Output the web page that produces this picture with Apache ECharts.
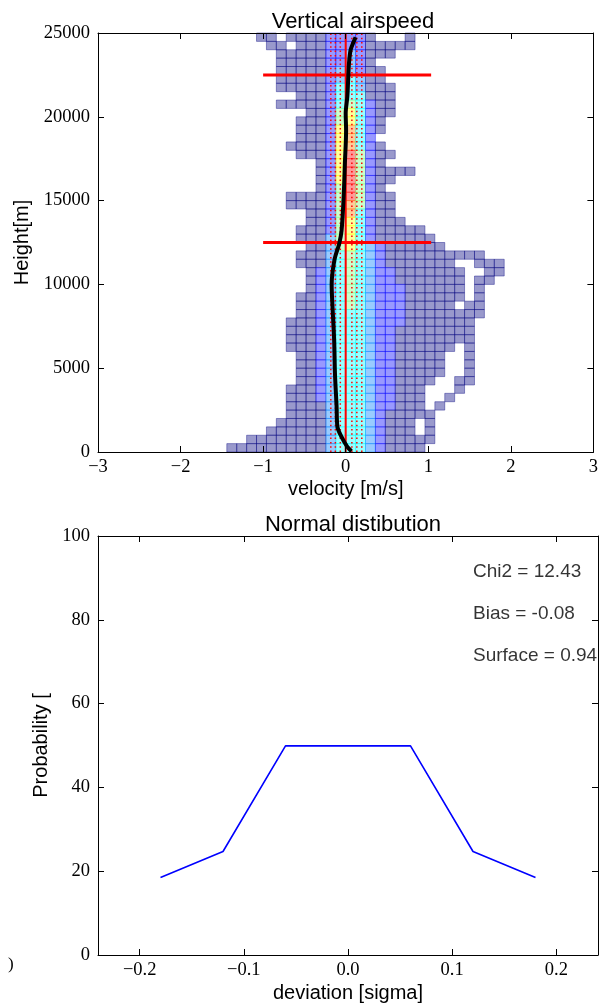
<!DOCTYPE html>
<html><head><meta charset="utf-8">
<script src="https://cdn.jsdelivr.net/npm/echarts@6/dist/echarts.min.js"></script>
<style>html,body{margin:0;padding:0;background:#fff}#chart{width:601px;height:1004px}</style>
</head><body><div id="chart"></div>
<script>
// ---------- data: vertical airspeed histogram ----------
const velocityEdges = [-3.00,-2.88,-2.76,-2.64,-2.52,-2.40,-2.28,-2.16,-2.04,-1.92,-1.80,-1.68,-1.56,-1.44,-1.32,-1.20,-1.08,-0.96,-0.84,-0.72,-0.60,-0.48,-0.36,-0.24,-0.12,0.00,0.12,0.24,0.36,0.48,0.60,0.72,0.84,0.96,1.08,1.20,1.32,1.44,1.56,1.68,1.80,1.92,2.04,2.16,2.28,2.40,2.52,2.64,2.76,2.88,3.00];
const heightEdges = [0,500,1000,1500,2000,2500,3000,3500,4000,4500,5000,5500,6000,6500,7000,7500,8000,8500,9000,9500,10000,10500,11000,11500,12000,12500,13000,13500,14000,14500,15000,15500,16000,16500,17000,17500,18000,18500,19000,19500,20000,20500,21000,21500,22000,22500,23000,23500,24000,24500,25000];
// count level per cell, top row (24500-25000 m) first, one char per velocity bin; '.' = empty
const histRows = [
".......... ......11.1 11122221.. .1........ ..........",
".......... .......11. 1112222111 11........ ..........",
".......... ........11 1112232111 .......... ..........",
".......... ........11 11122321.. .......... ..........",
".......... ........11 111233211. .......... ..........",
".......... ........11 111234311. .......... ..........",
".......... ........11 1112443111 .......... ..........",
".......... .......... 1112444111 .......... ..........",
".......... ........11 1112454211 .......... ..........",
".......... .......... .112564211 .......... ..........",
".......... .......... 111256421. .......... ..........",
".......... .......... 111267421. .......... ..........",
".......... .......... 11126742.. .......... ..........",
".......... .........1 111267421. .......... ..........",
".......... .......... 1112685211 .......... ..........",
".......... .......... ..1268521. .......... ..........",
".......... .......... ..12685211 11........ ..........",
".......... .......... ..12685211 .......... ..........",
".......... .......... ..1258521. .......... ..........",
".......... .........1 1112585211 .......... ..........",
".......... .........1 1112575211 .......... ..........",
".......... .......... .112574211 .......... ..........",
".......... .......... .112564211 1......... ..........",
".......... .......... 1112564211 111....... ..........",
".......... .......... 1113564211 1111...... ..........",
".......... .......... .113564321 11111..... ..........",
".......... .......... 1113454321 111111111. ..........",
".......... .......... 1113454321 111111..11 1.........",
".......... .......... .123454322 1111111..1 1.........",
".......... .......... .123454322 1111111.11 ..........",
".......... .......... .123454322 2111111.1. ..........",
".......... .......... 1123454322 2111111.1. ..........",
".......... .......... 1123454322 211111.11. ..........",
".......... .......... 1123444322 211111111. ..........",
".......... .........1 1123444322 21111111.. ..........",
".......... .........1 1123444322 11111111.. ..........",
".......... .........1 1123444322 11111111.. ..........",
".......... .........1 1123444322 111111.1.. ..........",
".......... .......... 1123444322 11111..1.. ..........",
".......... .......... 1123444322 11111..1.. ..........",
".......... .......... 1123444322 11111..1.. ..........",
".......... .......... 1123444322 1111..11.. ..........",
".......... .........1 1123444322 111...1... ..........",
".......... .........1 1123444322 111..1.... ..........",
".......... .........1 1113444322 111.1..... ..........",
".......... .........1 1113444321 1111...... ..........",
".......... ........11 1113444321 11.1...... ..........",
".......... .......111 1113444321 11.1...... ..........",
".......... .....11111 1113444321 1111...... ..........",
".......... ...1111111 1113444321 111....... .........."
];
// mean vertical airspeed profile
const meanVelocity = [0.07, 0.02, -0.05, -0.10, -0.11, -0.13, -0.14, -0.16, -0.17, -0.16, -0.13, -0.08, -0.05, -0.025, -0.01, 0.005, 0.0, 0.02, 0.03, 0.04, 0.06, 0.09, 0.12];
const meanHeight   = [50, 300, 900, 1500, 2700, 4700, 6700, 8700, 10000, 10700, 11600, 12400, 13200, 15200, 17200, 19200, 20200, 21200, 22200, 23200, 24000, 24400, 24750];
const layerHeights = [22500, 12500];
const layerSpan = [-1.0, 1.035];
const dottedVelocities = [-0.18, -0.125, -0.065, 0.075, 0.135, 0.195];
const velocityTicks = [-3, -2, -1, 0, 1, 2, 3];
const heightTicks = [0, 5000, 10000, 15000, 20000, 25000];

// ---------- data: normal distribution ----------
const deviation = [-0.18, -0.12, -0.06, 0.06, 0.12, 0.18];
const probability = [18.5, 24.7, 49.9, 49.9, 24.7, 18.5];
const statLabels = ['Chi2 = 12.43', 'Bias = -0.08', 'Surface = 0.94'];
const statX = [0.12, 0.12, 0.12];
const statY = [90, 80, 70];

// ---------- build ----------
const cells = [];
histRows.forEach((rowStr, t) => {
  const row = rowStr.replace(/ /g, '');
  const r = heightEdges.length - 2 - t;
  for (let k = 0; k < row.length; k++) {
    const c = row[k];
    if (c === '.') continue;
    cells.push([velocityEdges[k], velocityEdges[k + 1], heightEdges[r], heightEdges[r + 1], Number(c)]);
  }
});
const minus = s => String(s).replace('-', '\u2212');
const serif = 'Liberation Serif';
const sans = 'Liberation Sans';
const tickLabel = {fontFamily: serif, fontSize: 18.5, color: '#000'};
const nameStyle = {fontFamily: sans, fontSize: 20, color: '#000'};
function axisBase(extra) {
  return Object.assign({
    type: 'value', z: 10,
    axisLine: {show: true, onZero: false, lineStyle: {color: '#000', width: 1}},
    axisTick: {show: true, inside: true, length: 6, lineStyle: {color: '#000'}},
    splitLine: {show: false}
  }, extra);
}
const series = [];
series.push({
  type: 'custom', xAxisIndex: 0, yAxisIndex: 0, z: 1,
  data: cells,
  encode: {x: [0, 1], y: [2, 3]},
  renderItem: (params, api) => {
    const p0 = api.coord([api.value(0), api.value(3)]);
    const p1 = api.coord([api.value(1), api.value(2)]);
    const col = api.visual('color');
    return {type: 'rect', shape: {x: p0[0], y: p0[1], width: p1[0] - p0[0], height: p1[1] - p0[1]},
      style: {fill: col, stroke: col, lineWidth: 1, opacity: 0.4}};
  }
});
dottedVelocities.forEach(v => series.push({
  type: 'line', xAxisIndex: 0, yAxisIndex: 0, z: 3, showSymbol: false, silent: true,
  data: [[v, heightEdges[0]], [v, heightEdges[heightEdges.length - 1]]],
  lineStyle: {color: '#ff0000', width: 1.5, type: [1.5, 2.8]}
}));
series.push({
  type: 'line', xAxisIndex: 0, yAxisIndex: 0, z: 4, showSymbol: false,
  data: [[0, heightEdges[0]], [0, heightEdges[heightEdges.length - 1]]],
  lineStyle: {color: '#ff0000', width: 2}
});
layerHeights.forEach(h => series.push({
  type: 'line', xAxisIndex: 0, yAxisIndex: 0, z: 4, showSymbol: false,
  data: [[layerSpan[0], h], [layerSpan[1], h]],
  lineStyle: {color: '#ff0000', width: 3}
}));
series.push({
  type: 'line', xAxisIndex: 0, yAxisIndex: 0, z: 5, showSymbol: false, smooth: 0.3,
  data: meanVelocity.map((v, i) => [v, meanHeight[i]]),
  lineStyle: {color: '#000', width: 4}
});
series.push({
  type: 'line', xAxisIndex: 2, yAxisIndex: 2, showSymbol: false,
  data: deviation.map((d, i) => [d, probability[i]]),
  lineStyle: {color: '#0000ff', width: 1.6}
});
series.push({
  type: 'scatter', xAxisIndex: 2, yAxisIndex: 2, symbolSize: 0, silent: true,
  data: statLabels.map((s, i) => ({value: [statX[i], statY[i]], name: s})),
  label: {show: true, position: 'right', distance: 0, offset: [0, -6], formatter: p => p.name,
    fontFamily: sans, fontSize: 19, color: '#000'}
});

const option = {
  animation: false,
  backgroundColor: '#fff',
  title: [
    {text: 'Vertical airspeed', left: 348, top: 6, textAlign: 'center',
      textStyle: {fontFamily: sans, fontSize: 22, fontWeight: 'normal', color: '#000'}},
    {text: 'Normal distibution', left: 348, top: 509, textAlign: 'center',
      textStyle: {fontFamily: sans, fontSize: 22, fontWeight: 'normal', color: '#000'}}
  ],
  visualMap: {type: 'continuous', show: false, seriesIndex: 0, dimension: 4, min: 1, max: 9,
    inRange: {color: ['#000080', '#0000ff', '#0080ff', '#00ffff', '#80ff80', '#ffff00', '#ff8000', '#ff0000', '#800000']}},
  grid: [
    {left: 98, top: 33, width: 500, height: 419, containLabel: false},
    {left: 98, top: 536, width: 500, height: 419, containLabel: false}
  ],
  xAxis: [
    axisBase({gridIndex: 0, position: 'bottom', min: velocityTicks[0], max: velocityTicks[velocityTicks.length - 1], interval: 1,
      name: 'velocity [m/s]', nameLocation: 'middle', nameGap: 27, nameTextStyle: nameStyle,
      axisLabel: Object.assign({margin: 6, formatter: v => minus(v)}, tickLabel)}),
    axisBase({gridIndex: 0, position: 'top', min: velocityTicks[0], max: velocityTicks[velocityTicks.length - 1], interval: 1, axisLabel: {show: false}}),
    axisBase({gridIndex: 1, position: 'bottom', min: -0.24, max: 0.24, splitNumber: 5,
      name: 'deviation [sigma]', nameLocation: 'middle', nameGap: 28, nameTextStyle: nameStyle,
      axisLabel: Object.assign({margin: 6, showMinLabel: false, showMaxLabel: false, formatter: v => minus(v.toFixed(1))}, tickLabel)}),
    axisBase({gridIndex: 1, position: 'top', min: -0.24, max: 0.24, splitNumber: 5, axisLabel: {show: false}})
  ],
  yAxis: [
    axisBase({gridIndex: 0, position: 'left', min: heightTicks[0], max: heightTicks[heightTicks.length - 1], interval: 5000,
      name: 'Height[m]', nameLocation: 'middle', nameGap: 63, nameTextStyle: nameStyle,
      axisLabel: Object.assign({margin: 8, formatter: v => String(v)}, tickLabel)}),
    axisBase({gridIndex: 0, position: 'right', min: heightTicks[0], max: heightTicks[heightTicks.length - 1], interval: 5000, axisLabel: {show: false}}),
    axisBase({gridIndex: 1, position: 'left', min: 0, max: 100, interval: 20,
      name: 'Probability [', nameLocation: 'middle', nameGap: 43, nameTextStyle: nameStyle,
      axisLabel: Object.assign({margin: 8, formatter: v => String(v)}, tickLabel)}),
    axisBase({gridIndex: 1, position: 'right', min: 0, max: 100, interval: 20, axisLabel: {show: false}})
  ],
  graphic: [
    {type: 'text', left: 8, top: 956, style: {text: ')', font: '17px Liberation Serif', fill: '#000'}}
  ],
  series: series
};
const chart = echarts.init(document.getElementById('chart'), null, {renderer: 'canvas'});
chart.setOption(option);
</script>
</body></html>
